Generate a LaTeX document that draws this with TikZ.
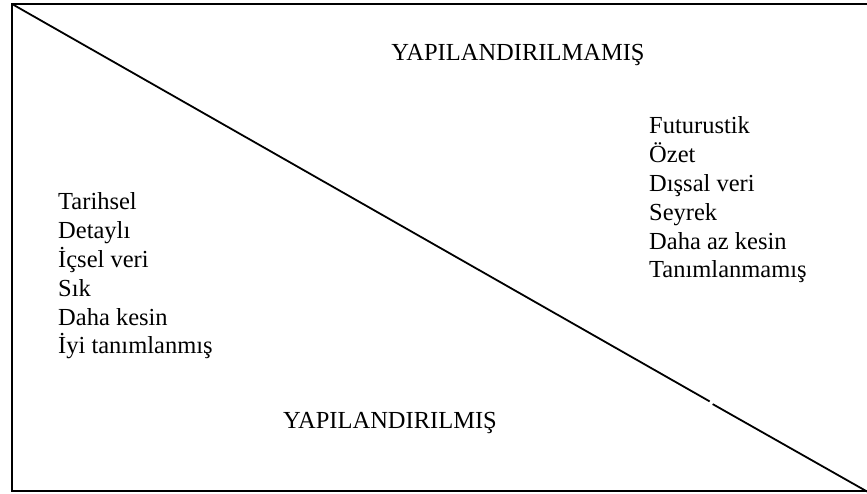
\documentclass[tikz,border=0pt]{standalone}
\usepackage{fontspec}
\setmainfont{Liberation Serif}
\usetikzlibrary{calc}
\begin{document}
\begin{tikzpicture}[x=1pt,y=-1pt,
  frame/.style={line width=2pt},
  split/.style={line width=1.8pt},
  label/.style={inner sep=0pt,anchor=base west,font=\fontsize{24.5}{28.8}\selectfont},
  title/.style={inner sep=0pt,anchor=base,font=\fontsize{24.5}{28.8}\selectfont}]
\useasboundingbox (0,0) rectangle (867,493);
% outer frame (right side runs off the page)
\draw[frame] (870,4) -- (12,4) -- (12,491) -- (870,491);
% diagonal split, with a small break near the lower end
\coordinate (tl) at (12,4);
\coordinate (br) at (867,491);
\coordinate (g1) at ($(tl)!0.816!(br)$);
\coordinate (g2) at ($(tl)!0.8195!(br)+(0,1)$);
\draw[split] (tl) -- (g1);
\draw[split] (g2) -- ($(br)+(0,0.5)$);
% headings
\node[title] (unstr) at (518,60) {YAPILANDIRILMAMIŞ};
\node[title] (str) at (390,428) {YAPILANDIRILMIŞ};
% structured side
\node[label] (l1) at (58,209) {Tarihsel};
\node[label] (l2) at (58,238) {Detaylı};
\node[label] (l3) at (58,267) {İçsel veri};
\node[label] (l4) at (58,296) {Sık};
\node[label] (l5) at (58,325) {Daha kesin};
\node[label] (l6) at (58,353) {İyi tanımlanmış};
% unstructured side
\node[label] (r1) at (649,133) {Futurustik};
\node[label] (r2) at (649,162) {Özet};
\node[label] (r3) at (649,191) {Dışsal veri};
\node[label] (r4) at (649,220) {Seyrek};
\node[label] (r5) at (649,249) {Daha az kesin};
\node[label] (r6) at (649,277) {Tanımlanmamış};
\end{tikzpicture}
\end{document}
